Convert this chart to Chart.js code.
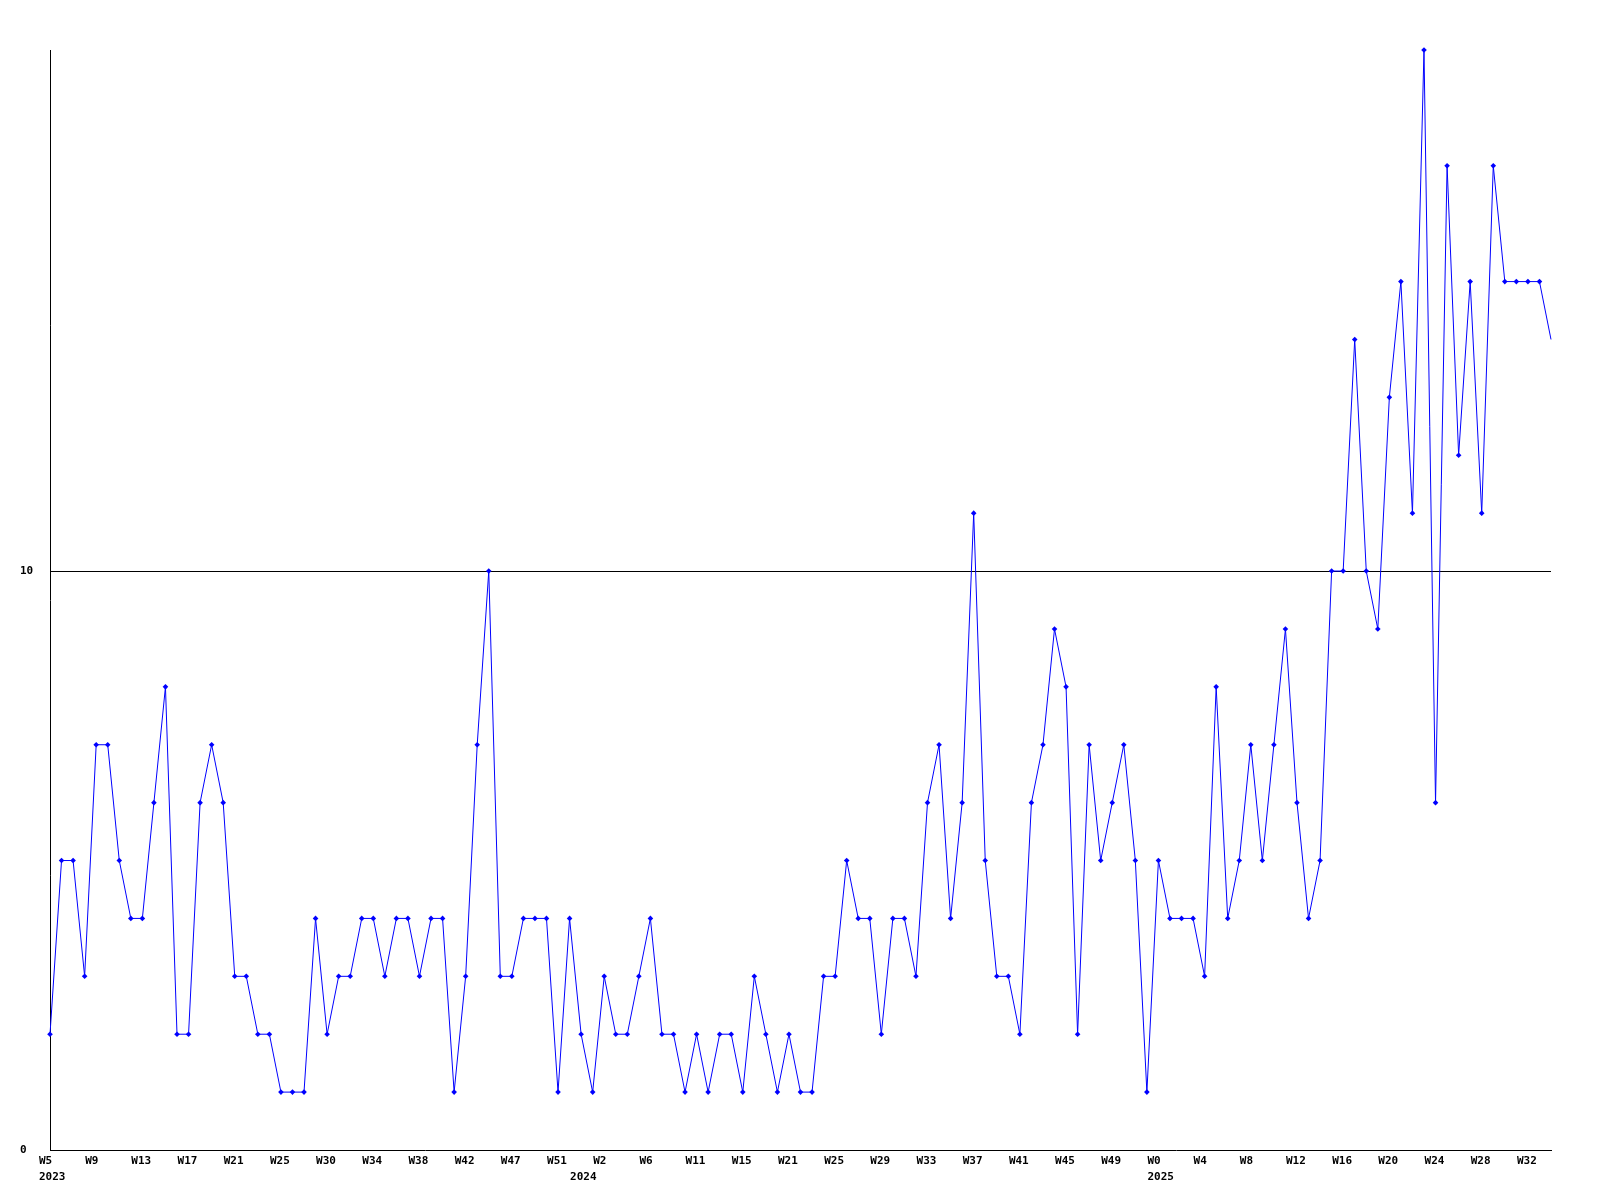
<!DOCTYPE html>
<html>
<head>
<meta charset="utf-8">
<script src="https://cdn.jsdelivr.net/npm/chart.js@4/dist/chart.umd.min.js"></script>
<style>
  body { margin: 0; background: #fff; }
</style>
</head>
<body>
<canvas id="chart" width="1600" height="1200"></canvas>
<script>
// weekly counts, one per point
const values = [
    2, 5, 5, 3, 7, 7, 5, 4, 4, 6,
    8, 2, 2, 6, 7, 6, 3, 3, 2, 2,
    1, 1, 1, 4, 2, 3, 3, 4, 4, 3,
    4, 4, 3, 4, 4, 1, 3, 7, 10, 3,
    3, 4, 4, 4, 1, 4, 2, 1, 3, 2,
    2, 3, 4, 2, 2, 1, 2, 1, 2, 2,
    1, 3, 2, 1, 2, 1, 1, 3, 3, 5,
    4, 4, 2, 4, 4, 3, 6, 7, 4, 6,
    11, 5, 3, 3, 2, 6, 7, 9, 8, 2,
    7, 5, 6, 7, 5, 1, 5, 4, 4, 4,
    3, 8, 4, 5, 7, 5, 7, 9, 6, 4,
    5, 10, 10, 14, 10, 9, 13, 15, 11, 19,
    6, 17, 12, 15, 11, 17, 15, 15, 15, 15,
    14
];

// week label shown on every 4th point
const weekTicks = ['W5', 'W9', 'W13', 'W17', 'W21', 'W25', 'W30', 'W34', 'W38', 'W42', 'W47', 'W51',
    'W2', 'W6', 'W11', 'W15', 'W21', 'W25', 'W29', 'W33', 'W37', 'W41', 'W45', 'W49',
    'W0', 'W4', 'W8', 'W12', 'W16', 'W20', 'W24', 'W28', 'W32'];

// year label and the point where the year starts
const years = ['2023', '2024', '2025'];
const yearStart = [0, 46, 96];

const yTicks = [0, 10];

const labels = values.map((v, i) => {
    const week = i % 4 === 0 ? (weekTicks[i / 4] || '') : '';
    const y = yearStart.indexOf(i);
    return y >= 0 ? [week, years[y]] : week;
});

const tickFont = { family: "'DejaVu Sans Mono', monospace", size: 11, weight: 'bold', lineHeight: 1.45 };

new Chart(document.getElementById('chart'), {
    type: 'line',
    data: {
        labels: labels,
        datasets: [{
            data: values,
            borderColor: '#0000ff',
            backgroundColor: '#0000ff',
            borderWidth: 1,
            tension: 0,
            clip: false,
            pointStyle: 'rectRot',
            pointRadius: ctx => ctx.dataIndex === values.length - 1 ? 0 : 2.8,
            pointBorderWidth: 0,
            pointBackgroundColor: '#0000ff'
        }]
    },
    options: {
        responsive: false,
        animation: false,
        layout: { padding: { left: 20, right: 49, top: 50, bottom: 0 } },
        plugins: {
            legend: { display: false },
            tooltip: { enabled: false }
        },
        scales: {
            x: {
                offset: false,
                grid: { display: false, drawTicks: false },
                border: { display: true, color: '#000', width: 1 },
                ticks: {
                    autoSkip: false,
                    maxRotation: 0,
                    minRotation: 0,
                    align: 'start',
                    labelOffset: -11,
                    padding: 3,
                    color: '#000',
                    font: tickFont
                },
                afterFit: axis => { axis.height = 50; }
            },
            y: {
                min: 0,
                max: 19,
                afterBuildTicks: axis => { axis.ticks = yTicks.map(v => ({ value: v })); },
                grid: {
                    drawTicks: false,
                    color: ctx => ctx.tick && ctx.tick.value === 10 ? '#000' : 'rgba(0,0,0,0)',
                    lineWidth: 1
                },
                border: { display: true, color: '#000', width: 1 },
                ticks: {
                    crossAlign: 'far',
                    padding: 0,
                    color: '#000',
                    font: tickFont
                },
                afterFit: axis => { axis.width = 30; }
            }
        }
    }
});
</script>
</body>
</html>
